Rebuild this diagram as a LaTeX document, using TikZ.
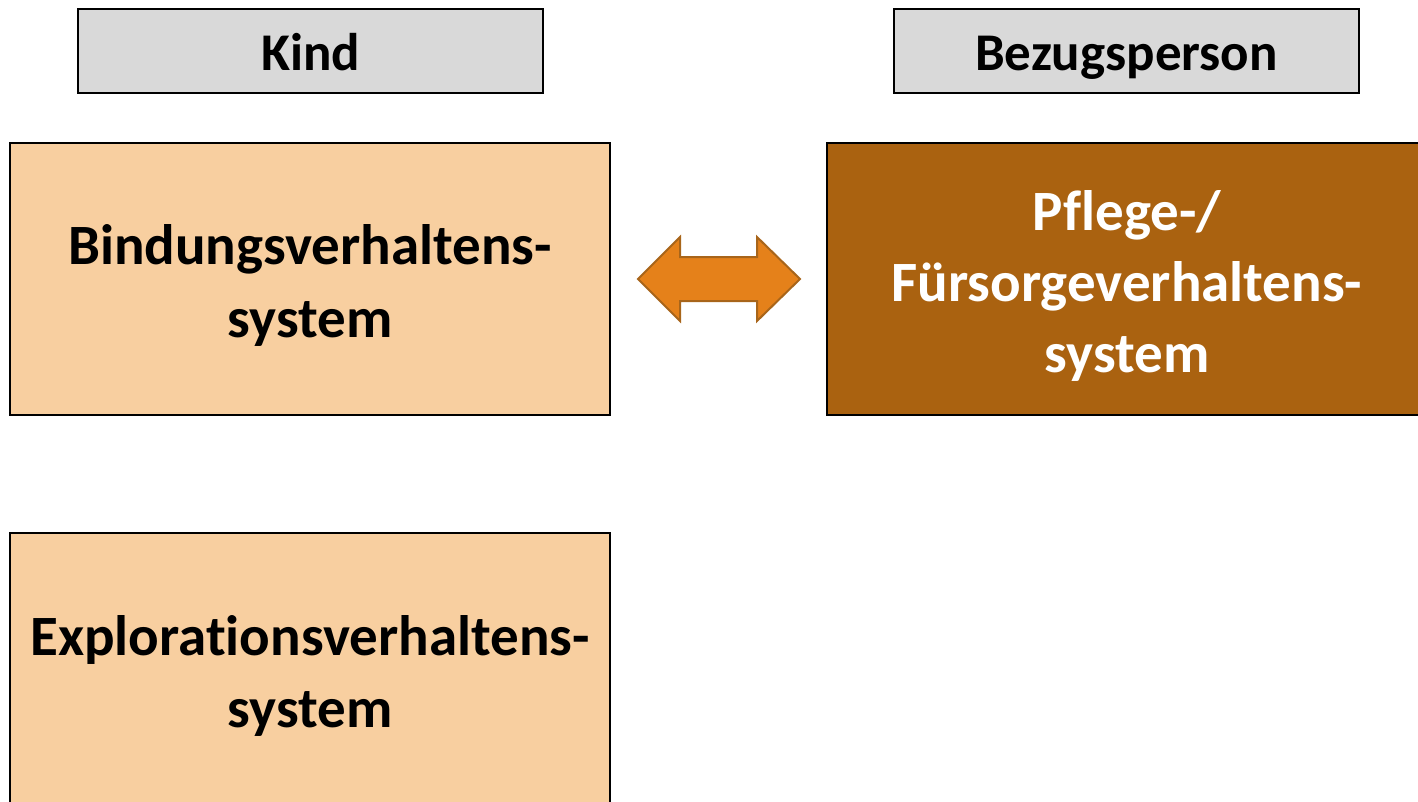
\documentclass[tikz,border=0pt]{standalone}
\usepackage{fontspec}
\setmainfont[Ligatures={NoCommon,NoRare,NoContextual}]{Carlito}
\definecolor{headgray}{HTML}{D9D9D9}
\definecolor{lightorange}{HTML}{F8CFA0}
\definecolor{darkbrown}{HTML}{AA6210}
\definecolor{arroworange}{HTML}{E5811A}
\definecolor{arrowborder}{HTML}{A8651A}
\newcommand{\topgap}{\rule{0pt}{53pt}}
\begin{document}
\begin{tikzpicture}[x=1pt,y=-1pt,
  headbox/.style={draw=black,line width=2pt,fill=headgray,inner sep=0pt,
    text height=42pt,text depth=4pt,
    font=\fontsize{53}{60}\selectfont\bfseries},
  sysbox/.style={draw=black,line width=1.6pt,fill=lightorange,inner sep=0pt,
    minimum width=600pt,minimum height=272pt,align=center,
    font=\fontsize{57}{72}\selectfont\bfseries},
]
\useasboundingbox (0,0) rectangle (1418,801);
\clip (0,0) rectangle (1418,801);
\node[headbox,minimum width=465pt,minimum height=84pt] (kind) at (310.5,51) {Kind};
\node[headbox,minimum width=465pt,minimum height=84pt] (bezug) at (1126.5,51) {Bezugsperson};
\node[sysbox,font=\fontsize{57}{73}\selectfont\bfseries] (bind) at (310,279) {\topgap Bindungsverhaltens-\\system};
\node[sysbox,fill=darkbrown,text=white,font=\fontsize{57}{71}\selectfont\bfseries] (pflege) at (1127,279) {\topgap Pflege-/\\Fürsorgeverhaltens-\\system};
\node[sysbox,font=\fontsize{57}{72}\selectfont\bfseries] (expl) at (310,669) {\topgap Explorationsverhaltens-\\system};
\draw[fill=arroworange,draw=arrowborder,line width=2pt,line join=miter]
  (638,279) -- (680,237) -- (680,257) -- (757,257) -- (757,237) -- (800,279)
  -- (757,321) -- (757,301) -- (680,301) -- (680,321) -- cycle;
\end{tikzpicture}
\end{document}
